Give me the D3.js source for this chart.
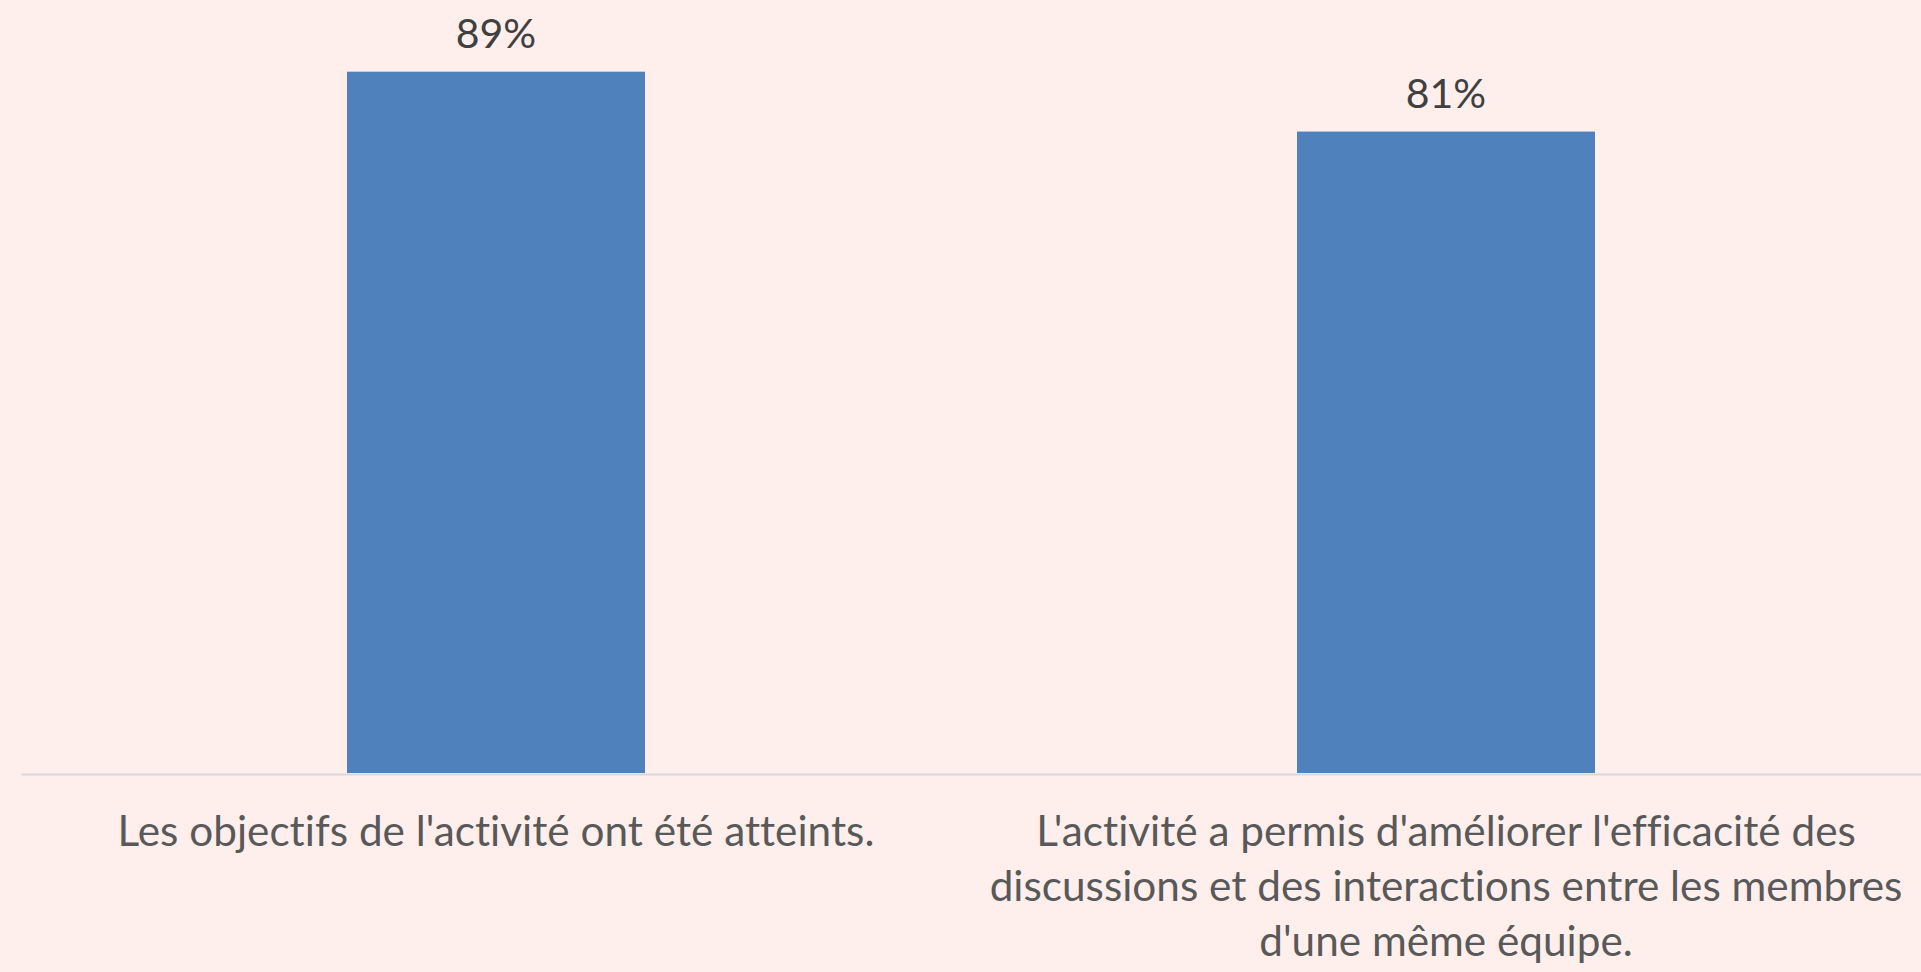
<!DOCTYPE html>
<html>
<head>
<meta charset="utf-8">
<script src="https://cdnjs.cloudflare.com/ajax/libs/d3/7.8.5/d3.min.js"></script>
<style>
	html, body { margin: 0; padding: 0; background: #FFEFEC; overflow: hidden; }
	svg { display: block; }
	text { font-variant-ligatures: none; font-feature-settings: "liga" 0, "dlig" 0; }
</style>
</head>
<body>
<svg width="1921" height="972"></svg>
<script>
// chart data
var categories = [
	"Les objectifs de l'activité ont été atteints.",
	"L'activité a permis d'améliorer l'efficacité des discussions et des interactions entre les membres d'une même équipe."
];
var values = [89, 81.4];
var yMax = 100;

var svg = d3.select('svg'),
	width = +svg.attr('width'),
	height = +svg.attr('height'),
	margin = { left: 21, right: 0 },
	baseline = 773,
	plotHeight = 788;

var data = categories.map(function(c, i) {
	return { cat: c, val: values[i] };
});

var x = d3.scaleBand()
	.domain(categories)
	.range([margin.left, width - margin.right])
	.paddingInner(0.6863)
	.paddingOuter(0.6863 / 2);

var y = d3.scaleLinear()
	.domain([0, yMax])
	.range([baseline, baseline - plotHeight]);

var fmt = function(v) { return Math.round(v) + '%'; };

// bars
svg.selectAll('.bar')
	.data(data)
	.enter().append('rect')
	.attr('class', 'bar')
	.attr('x', function(d) { return x(d.cat); })
	.attr('y', function(d) { return y(d.val); })
	.attr('width', x.bandwidth())
	.attr('height', function(d) { return baseline - y(d.val); })
	.attr('fill', '#4F81BD');

// data labels
svg.selectAll('.lbl')
	.data(data)
	.enter().append('text')
	.attr('class', 'lbl')
	.attr('x', function(d) { return x(d.cat) + x.bandwidth() / 2; })
	.attr('y', function(d) { return y(d.val) - 24; })
	.attr('text-anchor', 'middle')
	.attr('font-family', 'Lato, sans-serif')
	.attr('font-size', 41)
	.attr('fill', '#404040')
	.text(function(d) { return fmt(d.val); });

// x axis (line only, no ticks)
var axis = svg.append('g')
	.attr('transform', 'translate(0,' + (baseline + 1) + ')')
	.call(d3.axisBottom(x).tickSize(0).tickSizeOuter(0).tickFormat(''));
axis.select('.domain').attr('stroke', '#D9D9D9').attr('stroke-width', 2);

// wrapped category labels
var lineHeight = 55;
function wrap(textSel, maxWidth) {
	textSel.each(function() {
		var text = d3.select(this),
			words = text.text().split(/\s+/),
			cx = text.attr('x'),
			line = [],
			tspan = text.text(null).append('tspan').attr('x', cx).attr('dy', 0);
		words.forEach(function(w) {
			line.push(w);
			tspan.text(line.join(' '));
			if (tspan.node().getComputedTextLength() > maxWidth && line.length > 1) {
				line.pop();
				tspan.text(line.join(' '));
				line = [w];
				tspan = text.append('tspan').attr('x', cx).attr('dy', lineHeight).text(w);
			}
		});
	});
}

svg.selectAll('.cat')
	.data(categories)
	.enter().append('text')
	.attr('class', 'cat')
	.attr('x', function(d) { return x(d) + x.bandwidth() / 2; })
	.attr('y', 846)
	.attr('text-anchor', 'middle')
	.attr('font-family', 'Lato, sans-serif')
	.attr('font-size', 42.3)
	.attr('fill', '#595959')
	.text(function(d) { return d; })
	.call(wrap, x.step() - 10);
</script>
</body>
</html>
